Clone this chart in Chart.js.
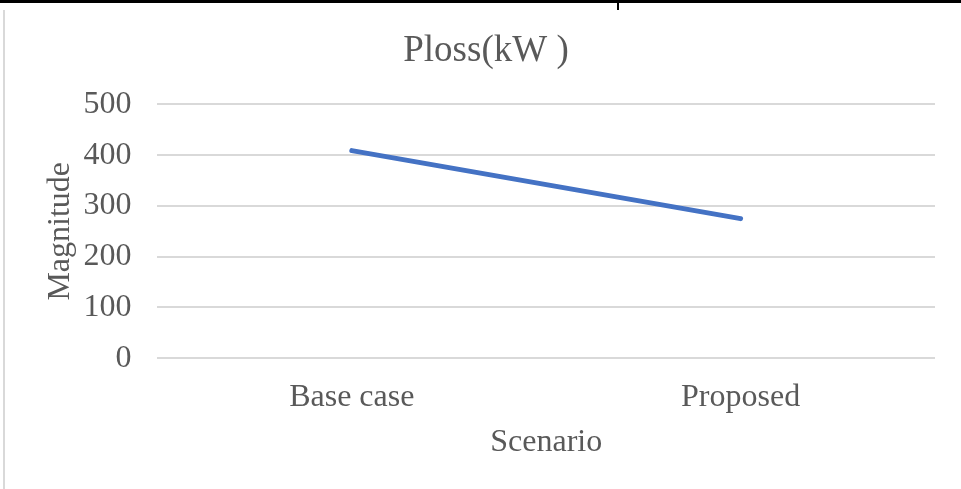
<!DOCTYPE html>
<html>
<head>
<meta charset="utf-8">
<script src="https://cdn.jsdelivr.net/npm/chart.js@4.4.0/dist/chart.umd.min.js"></script>
<style>
  body { margin: 0; background: #fff; }
  .topline { position: absolute; left: 0; top: 0; width: 961px; height: 3px; background: #000; }
  .vline { position: absolute; left: 617px; top: 0; width: 2px; height: 10px; background: #000; }
  .leftline { position: absolute; left: 3px; top: 10px; width: 2px; height: 479px; background: #d9d9d9; }
  #wrap { position: absolute; left: 8px; top: 12px; width: 953px; height: 477px; }
</style>
</head>
<body>
<div class="topline"></div>
<div class="vline"></div>
<div class="leftline"></div>
<div id="wrap"><canvas id="lossChart"></canvas></div>
<script>
const scenarios = ["Base case", "Proposed"];
const plossValues = [409, 275];
const yTicks = [0, 100, 200, 300, 400, 500];

const ctx = document.getElementById("lossChart").getContext("2d");
const grey = "#595959";
const serif = "'Liberation Serif', 'Times New Roman', serif";

new Chart(ctx, {
    type: "line",
    data: {
        labels: scenarios,
        datasets: [{
            label: "Ploss(kW )",
            data: plossValues,
            borderColor: "#4472C4",
            borderWidth: 5,
            borderCapStyle: "round",
            pointRadius: 0,
            tension: 0
        }]
    },
    options: {
        responsive: true,
        maintainAspectRatio: false,
        animation: false,
        layout: { padding: { left: 29, right: 26, top: 3, bottom: 27 } },
        plugins: {
            legend: { display: false },
            tooltip: { enabled: false },
            title: {
                display: true,
                text: "Ploss(kW )",
                color: grey,
                font: { family: serif, size: 37, weight: "normal" },
                padding: { top: 14, bottom: 31 }
            }
        },
        scales: {
            x: {
                offset: true,
                grid: { display: false },
                border: { display: false },
                ticks: { color: grey, font: { family: serif, size: 32 }, padding: 12 },
                title: {
                    display: true,
                    text: "Scenario",
                    color: grey,
                    font: { family: serif, size: 32 },
                    padding: { top: -5, bottom: 0 }
                }
            },
            y: {
                min: 0,
                max: 500,
                afterBuildTicks: (axis) => { axis.ticks = yTicks.map(v => ({ value: v })); },
                grid: { color: "#d9d9d9", lineWidth: 2, drawTicks: false },
                border: { display: false },
                ticks: { color: grey, font: { family: serif, size: 32 }, padding: 26 },
                title: {
                    display: true,
                    text: "Magnitude",
                    color: grey,
                    font: { family: serif, size: 32 },
                    padding: { top: 4, bottom: -22 }
                }
            }
        }
    }
});
</script>
</body>
</html>
